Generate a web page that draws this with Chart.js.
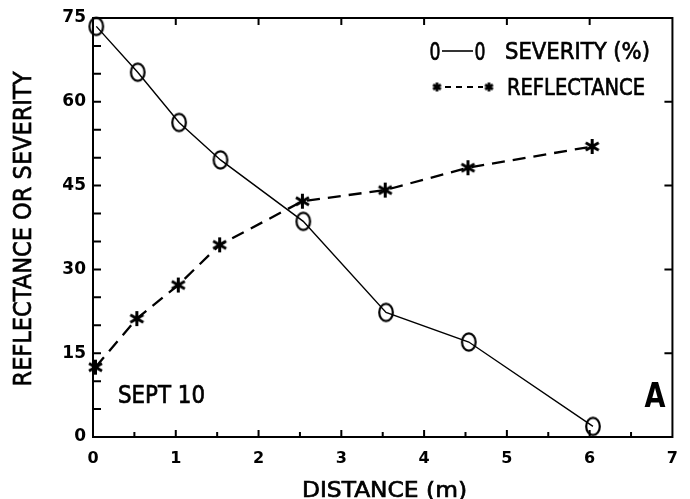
<!DOCTYPE html>
<html><head><meta charset="utf-8">
<script src="https://cdn.jsdelivr.net/npm/chart.js@4"></script>
<style>html,body{margin:0;padding:0;background:#fff}#wrap{width:690px;height:499px}</style>
</head><body><div id="wrap"><canvas id="c" width="690" height="499"></canvas></div>
<script>
// ---- data ----
const severityDistance = [0.04, 0.54, 1.04, 1.54, 2.54, 3.54, 4.54, 6.04];
const severity = [73.5, 65.3, 56.3, 49.6, 38.6, 22.3, 17.0, 1.9];
const reflectanceDistance = [0.03, 0.53, 1.03, 1.53, 2.53, 3.53, 4.53, 6.03];
const reflectance = [12.5, 21.2, 27.2, 34.4, 42.2, 44.2, 48.2, 52.0];
const xTickValues = [0, 1, 2, 3, 4, 5, 6, 7];
const yTickValues = [0, 15, 30, 45, 60, 75];
const seriesNames = ['SEVERITY (%)', 'REFLECTANCE'];
const xTitle = 'DISTANCE (m)';
const yTitle = 'REFLECTANCE OR SEVERITY';
const dateNote = 'SEPT 10';
const panelLetter = 'A';

const FONT = '"DejaVu Sans", sans-serif';

function ellipseMarker() {
  const c = document.createElement('canvas'); c.width = 20; c.height = 24;
  const g = c.getContext('2d'); g.lineWidth = 2.2; g.strokeStyle = '#000';
  g.beginPath(); g.ellipse(10, 12, 6.8, 8.6, 0, 0, 2 * Math.PI); g.stroke();
  return c;
}
function starMarker(size, lw) {
  const c = document.createElement('canvas'); c.width = size; c.height = size;
  const g = c.getContext('2d'); g.lineWidth = lw; g.strokeStyle = '#000'; g.lineCap = 'butt';
  const m = size / 2, r = size / 2 - 1;
  g.beginPath();
  for (const a of [90, 30, 150]) {
    const t = a * Math.PI / 180;
    g.moveTo(m - r * Math.cos(t), m - r * Math.sin(t));
    g.lineTo(m + r * Math.cos(t), m + r * Math.sin(t));
  }
  g.stroke();
  g.beginPath(); g.arc(m, m, lw * 0.9, 0, 2 * Math.PI); g.fillStyle = '#000'; g.fill();
  return c;
}
const ellipseImg = ellipseMarker();
const starImg = starMarker(17, 3);
const starSmall = starMarker(11, 2.6);

function fitText(ctx, text, cx, cy, size, width, opts = {}) {
  ctx.save();
  ctx.font = (opts.bold ? 'bold ' : '') + size + 'px ' + FONT;
  const w = ctx.measureText(text).width;
  ctx.translate(cx, cy);
  if (opts.rotate) ctx.rotate(-Math.PI / 2);
  ctx.scale(width / w, 1);
  ctx.fillStyle = '#000';
  ctx.strokeStyle = '#000';
  ctx.textAlign = 'center';
  ctx.textBaseline = 'alphabetic';
  ctx.fillText(text, 0, 0.365 * size);
  if (!opts.bold) { ctx.lineWidth = 0.7; ctx.strokeText(text, 0, 0.365 * size); }
  ctx.restore();
}

const decor = {
  id: 'decor',
  afterDatasetsDraw(chart) {
    const ctx = chart.ctx, a = chart.chartArea;
    const xs = chart.scales.x, ys = chart.scales.y;
    ctx.save();
    ctx.strokeStyle = '#000';
    // frame
    ctx.lineWidth = 2;
    ctx.strokeRect(a.left, a.top, a.right - a.left, a.bottom - a.top);
    // ticks
    ctx.lineWidth = 2;
    ctx.beginPath();
    for (let v = 0.5; v < 7; v += 0.5) {
      const px = xs.getPixelForValue(v);
      const len = Number.isInteger(v) ? 7 : 5;
      ctx.moveTo(px, a.bottom); ctx.lineTo(px, a.bottom - len);
      if (Number.isInteger(v)) { ctx.moveTo(px, a.top); ctx.lineTo(px, a.top + 7); }
    }
    for (let v = 5; v < 75; v += 5) {
      const py = ys.getPixelForValue(v);
      ctx.moveTo(a.left, py); ctx.lineTo(a.left + 8, py);
      if (v % 15 === 0) { ctx.moveTo(a.right, py); ctx.lineTo(a.right - 8, py); }
    }
    ctx.stroke();
    // titles
    fitText(ctx, xTitle, 384.5, 489, 22, 165);
    fitText(ctx, yTitle, 22, 229, 25, 315, { rotate: true });
    fitText(ctx, dateNote, 161.5, 394, 24, 87);
    fitText(ctx, panelLetter, 655, 395, 33, 21, { bold: true });
    // legend
    const l1 = 51, l2 = 87;
    fitText(ctx, '0', 435, l1, 25, 11);
    fitText(ctx, '0', 480, l1, 25, 11);
    ctx.lineWidth = 1.6; ctx.setLineDash([]);
    ctx.beginPath(); ctx.moveTo(442, l1); ctx.lineTo(473, l1); ctx.stroke();
    fitText(ctx, seriesNames[0], 577.5, l1, 23, 145);
    ctx.drawImage(starSmall, 437 - 5.5, l2 - 5.5);
    ctx.drawImage(starSmall, 489 - 5.5, l2 - 5.5);
    ctx.lineWidth = 2; ctx.setLineDash([6, 5]);
    ctx.beginPath(); ctx.moveTo(445, l2); ctx.lineTo(483, l2); ctx.stroke();
    ctx.setLineDash([]);
    fitText(ctx, seriesNames[1], 576, l2, 23, 138);
    ctx.restore();
  }
};

new Chart(document.getElementById('c'), {
  type: 'scatter',
  data: {
    datasets: [
      {
        label: seriesNames[0],
        data: severityDistance.map((x, i) => ({ x, y: severity[i] })),
        showLine: true, borderColor: '#000', borderWidth: 1.4,
        pointStyle: ellipseImg, pointRadius: 8, pointHoverRadius: 8,
        backgroundColor: 'transparent', clip: false, tension: 0
      },
      {
        label: seriesNames[1],
        data: reflectanceDistance.map((x, i) => ({ x, y: reflectance[i] })),
        showLine: true, borderColor: '#000', borderWidth: 2.3, borderDash: [13, 8],
        pointStyle: starImg, pointRadius: 8, pointHoverRadius: 8,
        backgroundColor: 'transparent', clip: false, tension: 0
      }
    ]
  },
  options: {
    responsive: false, animation: false, devicePixelRatio: 1,
    layout: { padding: { left: 0, right: 7, top: 18, bottom: 0 } },
    plugins: { legend: { display: false }, tooltip: { enabled: false } },
    scales: {
      x: {
        type: 'linear', min: 0, max: 7,
        afterBuildTicks: s => { s.ticks = xTickValues.map(v => ({ value: v })); },
        afterFit: s => { s.height = 62; },
        grid: { display: false, drawTicks: false },
        border: { display: false },
        ticks: { color: '#000', font: { family: FONT, size: 16, weight: 'bold' }, padding: 12, maxRotation: 0 }
      },
      y: {
        type: 'linear', min: 0, max: 75,
        afterBuildTicks: s => { s.ticks = yTickValues.map(v => ({ value: v })); },
        afterFit: s => { s.width = 93; },
        grid: { display: false, drawTicks: false },
        border: { display: false },
        ticks: { color: '#000', font: { family: FONT, size: 17, weight: 'bold' }, padding: 7 }
      }
    }
  },
  plugins: [decor]
});
</script></body></html>
